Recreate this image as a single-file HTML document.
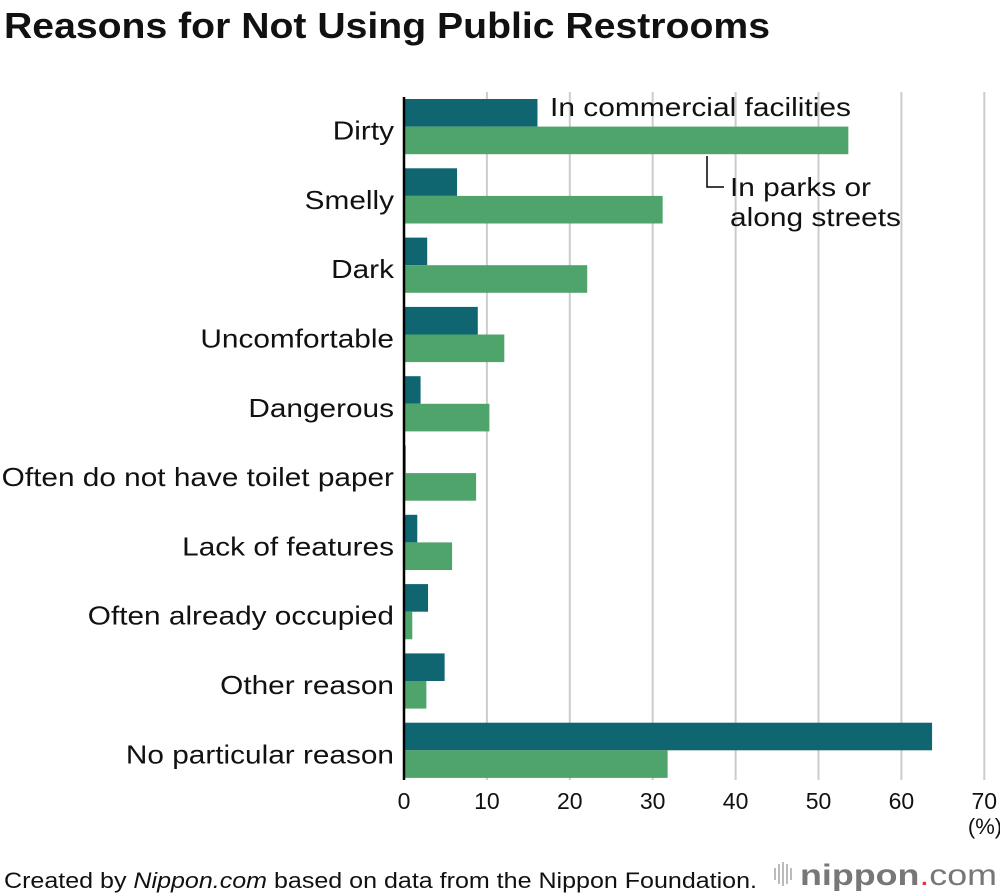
<!DOCTYPE html>
<html><head><meta charset="utf-8"><style>
body{margin:0;background:#fff;font-family:"Liberation Sans",Arial,sans-serif;}
#wrap{position:relative;width:1000px;height:896px;overflow:hidden;}
</style></head><body>
<div id="wrap">
<svg id="chart" width="1000" height="896" font-family="Liberation Sans, Arial, sans-serif">
<text x="4" y="38" font-size="36" font-weight="bold" fill="#111" textLength="766" lengthAdjust="spacingAndGlyphs">Reasons for Not Using Public Restrooms</text>
<g id="grid"></g><g id="bars"></g><g id="labels"></g>
<line x1="404" y1="97" x2="404" y2="780" stroke="#000" stroke-width="2.5"/>
<text x="550" y="116" font-size="26" fill="#111" textLength="301" lengthAdjust="spacingAndGlyphs">In commercial facilities</text>
<polyline points="707,156 707,187 724,187" fill="none" stroke="#000" stroke-width="1.5"/>
<text x="730" y="196" font-size="26" fill="#111" textLength="141" lengthAdjust="spacingAndGlyphs">In parks or</text>
<text x="730" y="226" font-size="26" fill="#111" textLength="171" lengthAdjust="spacingAndGlyphs">along streets</text>
<text x="985" y="834" font-size="22" text-anchor="middle" fill="#111">(%)</text>
<text x="4" y="888" font-size="22" fill="#111" textLength="753" lengthAdjust="spacingAndGlyphs">Created by <tspan font-style="italic">Nippon.com</tspan> based on data from the Nippon Foundation.</text>
<g>
<g stroke="#bbb" stroke-width="2"><line x1="775" y1="868" x2="775" y2="880"/><line x1="779" y1="864" x2="779" y2="884"/><line x1="783" y1="862" x2="783" y2="886"/><line x1="787" y1="864" x2="787" y2="884"/><line x1="791" y1="868" x2="791" y2="880"/></g>
<text x="800" y="885" font-size="30" fill="#777" textLength="197" lengthAdjust="spacingAndGlyphs"><tspan font-weight="bold">nippon</tspan><tspan fill="#e33">.</tspan>com</text>
</g>
</svg>
</div>
<script>
const categories=["Dirty","Smelly","Dark","Uncomfortable","Dangerous","Often do not have toilet paper","Lack of features","Often already occupied","Other reason","No particular reason"];
const commercial=[16.1,6.4,2.8,8.9,2.0,0.2,1.6,2.9,4.9,63.7];
const parks=[53.6,31.2,22.1,12.1,10.3,8.7,5.8,1.0,2.7,31.8];
const ticks=[0,10,20,30,40,50,60,70];
const NS="http://www.w3.org/2000/svg";
const x0=404,pxPer=8.29;
function xs(v){return x0+v*pxPer;}
function rowTop(i){return 99+i*69.3;}
const bh=27.6;
const grid=document.getElementById('grid'),bars=document.getElementById('bars'),labels=document.getElementById('labels');
function mk(tag,attrs,parent){const e=document.createElementNS(NS,tag);for(const k in attrs)e.setAttribute(k,attrs[k]);parent.appendChild(e);return e;}
ticks.forEach(t=>{
  if(t>0){const l=mk('line',{x1:xs(t),x2:xs(t),y1:92,y2:780,stroke:'#ccc','stroke-width':2},grid);
  
  }
  const tx=mk('text',{x:xs(t),y:809,'font-size':23,'text-anchor':'middle',fill:'#111'},labels);
  tx.textContent=t;
  
  
});
categories.forEach((c,i)=>{
  const y=rowTop(i);
  const b1=mk('rect',{x:x0,y:y,width:Math.max(xs(commercial[i])-x0,0),height:bh,fill:'#0f6570'},bars);
  
  
  const b2=mk('rect',{x:x0,y:y+bh,width:xs(parks[i])-x0,height:bh,fill:'#4fa46b'},bars);
  
  
  const t=mk('text',{x:394,y:y+bh+13,'font-size':26,'text-anchor':'end',fill:'#111'},labels);
  t.textContent=c;
  
  
  const w=t.getComputedTextLength();
  t.setAttribute('textLength',(w*1.145).toFixed(1));
  t.setAttribute('lengthAdjust','spacingAndGlyphs');
});
</script>
</body></html>
